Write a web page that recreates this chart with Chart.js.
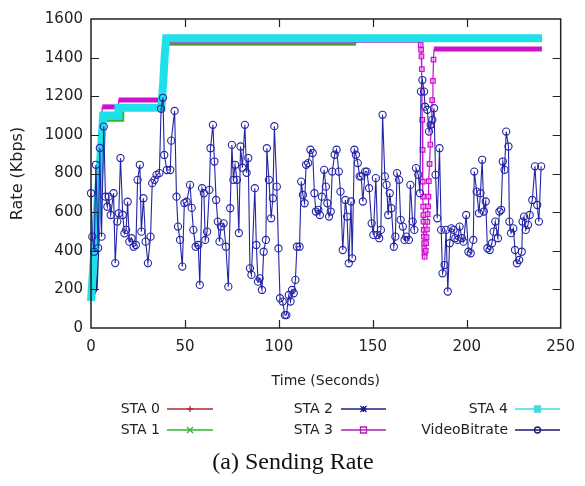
<!DOCTYPE html>
<html><head><meta charset="utf-8">
<script src="https://cdn.jsdelivr.net/npm/chart.js@4.4.0/dist/chart.umd.min.js"></script>
<style>html,body{margin:0;padding:0;background:#fff;}#wrap{width:585px;height:486px;position:relative;}</style>
</head><body><div id="wrap"><canvas id="c"></canvas></div>
<script>
// ---------------- DATA ----------------
const videoTime = [0,0.7,1.7,2.6,3.8,4.7,5.6,6.8,7.7,8.7,9.4,10.5,12.0,12.9,14.0,14.8,15.7,16.9,17.8,18.7,19.5,20.4,21.6,22.7,23.9,24.8,26.0,26.8,27.9,29.1,30.3,31.7,32.6,33.8,34.9,36.4,37.3,38.3,39.0,40.4,42.2,42.7,44.5,45.5,46.3,47.4,48.6,49.7,50.9,52.7,53.6,54.5,55.7,57.1,57.9,59.1,60.1,60.8,61.8,63.0,63.6,64.9,65.7,66.6,67.5,68.4,69.2,70.6,71.8,73.1,74.1,75.0,75.8,76.7,77.7,78.7,79.6,80.6,81.9,82.8,83.7,84.6,85.4,87.2,88.0,88.9,89.8,91.0,91.9,93.1,93.6,94.7,95.9,96.8,97.6,98.9,99.8,100.6,102.0,103.2,104.0,105.3,106.2,107.0,107.9,108.8,109.6,111.0,111.9,112.8,113.7,114.5,115.6,116.8,118.0,118.9,119.7,121.0,121.8,122.9,124.1,125.0,125.8,126.7,127.6,128.4,129.7,130.7,131.9,132.8,134.0,135.4,136.3,137.2,138.4,139.0,140.2,141.0,142.0,143.0,143.8,144.7,145.9,146.8,148.0,149.4,150.3,151.6,152.6,153.4,154.3,155.2,156.4,157.3,158.2,159.0,159.9,161.2,162.0,162.9,164.0,164.8,166.0,166.9,167.8,169.2,170.0,171.2,172.1,173.0,174.2,175.1,175.6,176.4,177.3,177.8,179.0,179.9,180.8,181.7,182.6,183.4,184.3,185.5,186.4,187.1,188.2,189.0,189.9,190.9,191.8,193.0,193.9,195.1,196.2,197.4,198.3,199.7,200.9,202.1,203.5,204.0,205.3,206.5,207.3,208.2,209.1,210.1,211.0,212.2,213.4,214.3,215.2,216.6,217.4,218.3,219.2,220.1,221.0,222.2,222.7,223.6,224.8,225.7,226.7,227.9,229.3,229.7,230.5,231.4,232.6,233.5,234.9,236.3,237.5,238.4,239.6];
const videoRate = [698,473,395,845,414,932,473,1043,680,628,680,585,698,336,551,594,880,585,490,508,654,447,465,421,430,767,845,499,672,447,336,473,750,767,793,802,1135,1192,896,818,818,970,1124,680,525,456,318,647,654,741,622,508,421,430,223,724,698,456,499,715,931,1052,862,663,551,447,525,542,421,214,620,948,767,845,767,492,940,830,1052,804,880,309,275,724,430,240,257,197,395,456,931,767,568,672,1045,732,412,154,137,67,67,171,137,197,180,249,421,421,758,689,646,845,854,923,906,698,603,612,585,680,819,732,646,577,603,810,897,923,810,706,404,663,577,335,655,361,923,897,854,785,785,655,810,810,724,542,482,776,482,465,508,1104,785,741,585,698,620,421,473,802,767,560,525,456,473,456,741,551,508,828,793,698,1224,1284,1224,1146,1130,1017,1052,1078,1138,793,568,931,508,283,326,508,189,439,516,508,465,456,525,465,447,585,395,387,456,810,706,594,698,871,603,655,413,404,439,499,551,465,603,612,862,819,1017,940,551,491,516,404,335,352,395,551,577,508,534,585,663,837,637,551,837];

const sta0Time = [0,7.2,14.5,14.6,37.5,39.5,40.2,140.5,141,240];
const sta0Rate = [140,1100,1100,1140,1140,1380,1468,1468,1500,1500];
const sta1Time = [0,6.5,17,17.1,37.5,39.5,40.2,140.5,141,240];
const sta1Rate = [140,1075,1075,1130,1130,1400,1473,1473,1500,1500];
const sta2Time = [0,3,6.8,14.5,14.6,37.5,39.5,40.2,240];
const sta2Rate = [140,200,1110,1110,1140,1140,1400,1500,1500];
const sta3Time = [0,6,14.6,14.7,37.5,38.3,39,39.6,40.2,175.3,175.5,175.7,175.9,176.1,176.3,176.5,176.6,176.7,176.8,176.9,177.0,177.1,177.2,177.3,177.4,177.5,177.6,178.2,178.4,178.6,178.8,179.0,179.2,179.4,179.6,179.8,180.2,180.6,181.2,181.6,182.0,182.3,182.6,240];
const sta3Rate = [140,1145,1145,1180,1180,1300,1400,1450,1490,1490,1466,1440,1406,1340,1078,922,758,680,628,585,551,508,473,439,413,387,369,400,440,470,510,550,590,630,680,760,850,950,1050,1180,1280,1390,1445,1445];
const sta4Time = [0,6.5,14.5,14.6,37.5,38.5,39.3,40,240];
const sta4Rate = [140,1100,1100,1140,1140,1280,1420,1500,1500];

const xTicks = [0,50,100,150,200,250];
const yTicks = [0,200,400,600,800,1000,1200,1400,1600];
const seriesNames = ['STA 0','STA 1','STA 2','STA 3','STA 4','VideoBitrate'];
const xTitle = 'Time (Seconds)';
const yTitle = 'Rate (Kbps)';
const captionText = '(a) Sending Rate';

// ---------------- BUILD ----------------
const pts = (t, v) => t.map((x, i) => ({x, y: v[i]}));

const styles = [
  {color:'#b22a2a', marker:'cross',    fill:false, bw:2, r:3},
  {color:'#2fb82f', marker:'crossRot', fill:false, bw:2.5, r:3},
  {color:'#1c1c8c', marker:'star',     fill:false, bw:2, r:3},
  {color:'#cc10cc', marker:'rect',     fill:false, bw:5, r:3},
  {color:'#1fe0e8', marker:'rect',     fill:true,  bw:8, r:3.5},
  {color:'#2424a6', marker:'circle',   fill:false, bw:1.1, r:3.6}
];
const legendLineColors = ['#b22a2a','#2fb82f','#1c1c8c','#b020b0','#40dde0','#1a1a70'];

const series = [pts(sta0Time,sta0Rate),pts(sta1Time,sta1Rate),pts(sta2Time,sta2Rate),pts(sta3Time,sta3Rate),pts(sta4Time,sta4Rate),pts(videoTime,videoRate)];

// markers on STA 3 only where the value is changing (not on flat runs)
const transitionRadius = r => ctx => {
  const d = ctx.dataset.data, i = ctx.dataIndex;
  if (i === undefined || i <= 0 || i >= d.length - 1) return 0;
  return (d[i].y !== d[i - 1].y && d[i].y !== d[i + 1].y) ? r : 0;
};

const datasets = series.map((data, i) => {
  const s = styles[i];
  const ds = {
    label: seriesNames[i],
    data,
    order: 5 - i,
    borderColor: s.color,
    borderWidth: s.bw,
    backgroundColor: s.color,
    pointStyle: s.marker,
    pointRadius: i === 5 ? s.r : (i === 3 ? transitionRadius(3.2) : 0),
    pointBorderColor: s.color,
    pointBorderWidth: i === 5 ? 1.1 : 1.2,
    pointBackgroundColor: s.fill ? s.color : (i === 3 ? 'rgba(240,160,240,0.55)' : 'rgba(255,255,255,0)'),
    tension: 0,
    clip: false
  };
  if (i === 3) {
    // thick flat runs, thin connectors where the rate is moving
    ds.segment = {borderWidth: c => (c.p0.parsed.y === c.p1.parsed.y ? s.bw : 1.2)};
  }
  return ds;
});

function drawMarker(ctx, style, x, y, r, color, fill) {
  ctx.save();
  ctx.strokeStyle = color; ctx.fillStyle = color; ctx.lineWidth = 1.3;
  ctx.beginPath();
  if (style === 'cross' || style === 'star') {
    ctx.moveTo(x - r, y); ctx.lineTo(x + r, y); ctx.moveTo(x, y - r); ctx.lineTo(x, y + r);
  }
  if (style === 'crossRot' || style === 'star') {
    ctx.moveTo(x - r, y - r); ctx.lineTo(x + r, y + r); ctx.moveTo(x - r, y + r); ctx.lineTo(x + r, y - r);
  }
  if (style === 'rect') { ctx.rect(x - r, y - r, 2 * r, 2 * r); }
  if (style === 'circle') { ctx.arc(x, y, r, 0, Math.PI * 2); }
  if (fill) ctx.fill();
  ctx.stroke();
  ctx.restore();
}

const framePlugin = {
  id: 'frame',
  afterDatasetsDraw(chart) {
    const {ctx, chartArea: a, scales: {x, y}} = chart;
    ctx.save();
    ctx.strokeStyle = '#222';
    ctx.lineWidth = 1.5;
    ctx.strokeRect(a.left, a.top, a.right - a.left, a.bottom - a.top);
    ctx.lineWidth = 1.2;
    ctx.beginPath();
    xTicks.forEach(v => {
      if (v <= x.min || v >= x.max) return;
      const px = Math.round(x.getPixelForValue(v)) + 0.5;
      ctx.moveTo(px, a.bottom); ctx.lineTo(px, a.bottom - 8);
      ctx.moveTo(px, a.top); ctx.lineTo(px, a.top + 8);
    });
    yTicks.forEach(v => {
      if (v <= y.min || v >= y.max) return;
      const py = Math.round(y.getPixelForValue(v)) + 0.5;
      ctx.moveTo(a.left, py); ctx.lineTo(a.left + 8, py);
      ctx.moveTo(a.right, py); ctx.lineTo(a.right - 8, py);
    });
    ctx.stroke();
    ctx.restore();
  },
  afterDraw(chart) {
    const ctx = chart.ctx;
    ctx.save();
    // legend (gnuplot style: text, then sample)
    const cols = [{tx:160, l0:167, l1:213},{tx:333, l0:341, l1:386},{tx:508, l0:515, l1:560}];
    const rows = [409, 430];
    ctx.font = '14px "DejaVu Sans"';
    ctx.textAlign = 'right';
    ctx.textBaseline = 'middle';
    seriesNames.forEach((name, i) => {
      const c = cols[Math.floor(i / 2)], yy = rows[i % 2];
      const s = styles[i];
      ctx.fillStyle = '#222';
      ctx.fillText(name, c.tx, yy);
      ctx.strokeStyle = legendLineColors[i];
      ctx.lineWidth = 1.5;
      ctx.beginPath(); ctx.moveTo(c.l0, yy); ctx.lineTo(c.l1, yy); ctx.stroke();
      drawMarker(ctx, s.marker, (c.l0 + c.l1) / 2, yy, 3, legendLineColors[i], s.fill);
    });
    // caption
    ctx.font = '24px "Liberation Serif"';
    ctx.textAlign = 'center';
    ctx.fillStyle = '#111';
    ctx.fillText(captionText, 293, 463);
    ctx.restore();
  }
};

new Chart(document.getElementById('c'), {
  type: 'line',
  data: {datasets},
  options: {
    responsive: true,
    maintainAspectRatio: false,
    animation: false,
    events: [],
    layout: {padding: {left: 0, right: 16, top: 19, bottom: 96}},
    plugins: {legend: {display: false}, tooltip: {enabled: false}},
    scales: {
      x: {
        type: 'linear', min: 0, max: 250,
        afterBuildTicks: s => { s.ticks = xTicks.map(v => ({value: v})); },
        afterFit: s => { s.height = 62; },
        grid: {display: false, drawTicks: false},
        border: {display: false},
        ticks: {font: {family: 'DejaVu Sans', size: 15}, color: '#222', padding: 10, maxRotation: 0, callback: v => String(v)},
        title: {display: true, text: xTitle, font: {family: 'DejaVu Sans', size: 14}, color: '#222', padding: {top: 0, bottom: 0}}
      },
      y: {
        type: 'linear', min: 0, max: 1600,
        afterBuildTicks: s => { s.ticks = yTicks.map(v => ({value: v})); },
        afterFit: s => { s.width = 91; },
        grid: {display: false, drawTicks: false},
        border: {display: false},
        ticks: {font: {family: 'DejaVu Sans', size: 15}, color: '#222', padding: 8, callback: v => String(v)},
        title: {display: true, text: yTitle, font: {family: 'DejaVu Sans', size: 16}, color: '#222', padding: {top: 8, bottom: 0}}
      }
    }
  },
  plugins: [framePlugin]
});
</script>
</body></html>
